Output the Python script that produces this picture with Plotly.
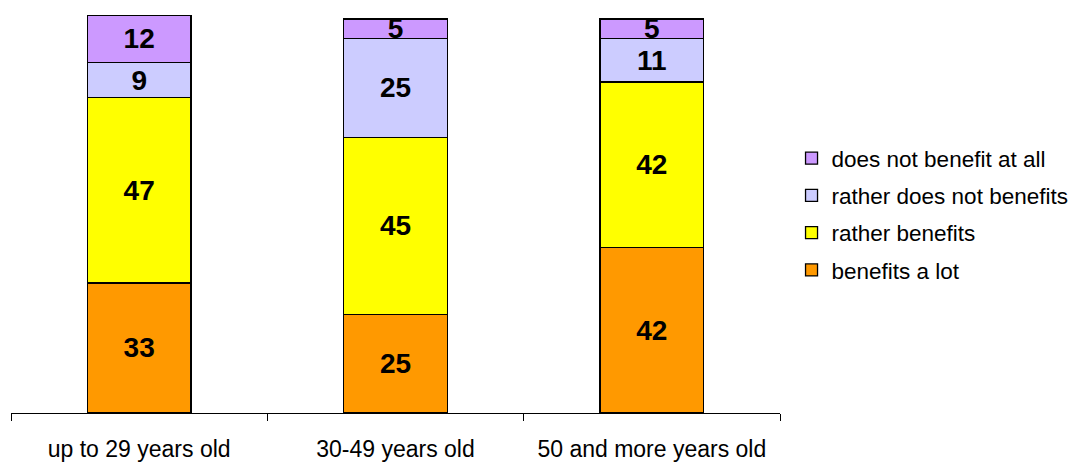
import plotly.graph_objects as go

categories = ["up to 29 years old", "30-49 years old", "50 and more years old"]
series_names = ["benefits a lot", "rather benefits", "rather does not benefits", "does not benefit at all"]
benefits_a_lot = [33, 25, 42]
rather_benefits = [47, 45, 42]
rather_not = [9, 25, 11]
not_at_all = [12, 5, 5]
values = [benefits_a_lot, rather_benefits, rather_not, not_at_all]
colors = ["#FF9900", "#FFFF00", "#CCCCFF", "#CC99FF"]

fig = go.Figure()
for i, (name, vals, col) in enumerate(zip(series_names, values, colors)):
    fig.add_trace(go.Bar(
        x=categories, y=vals, name=name,
        marker=dict(color=col, line=dict(color="black", width=1.3)),
        text=vals, texttemplate="<b>%{text}</b>", textposition="inside",
        insidetextanchor="middle", textangle=0, constraintext="none",
        textfont=dict(family="Liberation Sans, Arial", size=28, color="black"),
        width=0.405, legendgroup=name, legendrank=10 - i, hoverinfo="skip",
    ))

fig.update_layout(
    barmode="stack",
    width=1076, height=462,
    margin=dict(l=11, r=296, t=15, b=49, autoexpand=False),
    paper_bgcolor="white", plot_bgcolor="white",
    font=dict(family="Liberation Sans, Arial", size=23, color="black"),
    uniformtext=dict(minsize=28, mode="show"),
    legend=dict(x=1.015, y=0.5, xanchor="left", yanchor="middle",
                traceorder="grouped", tracegroupgap=5,
                font=dict(size=22.5), itemwidth=30),
    showlegend=True,
)
fig.update_xaxes(
    showline=True, linecolor="black", linewidth=1.3,
    ticks="outside", ticklen=7, tickcolor="black", tickwidth=1.3,
    tickson="boundaries", range=[-0.5, 2.5], showgrid=False,
    tickfont=dict(size=23), automargin=False, ticklabelstandoff=15,
)
fig.update_yaxes(visible=False, range=[0, 101], showgrid=False)

fig.write_html("out.html", config={"displayModeBar": False},
               post_script="document.body.style.margin='0';document.body.style.overflow='hidden';")
